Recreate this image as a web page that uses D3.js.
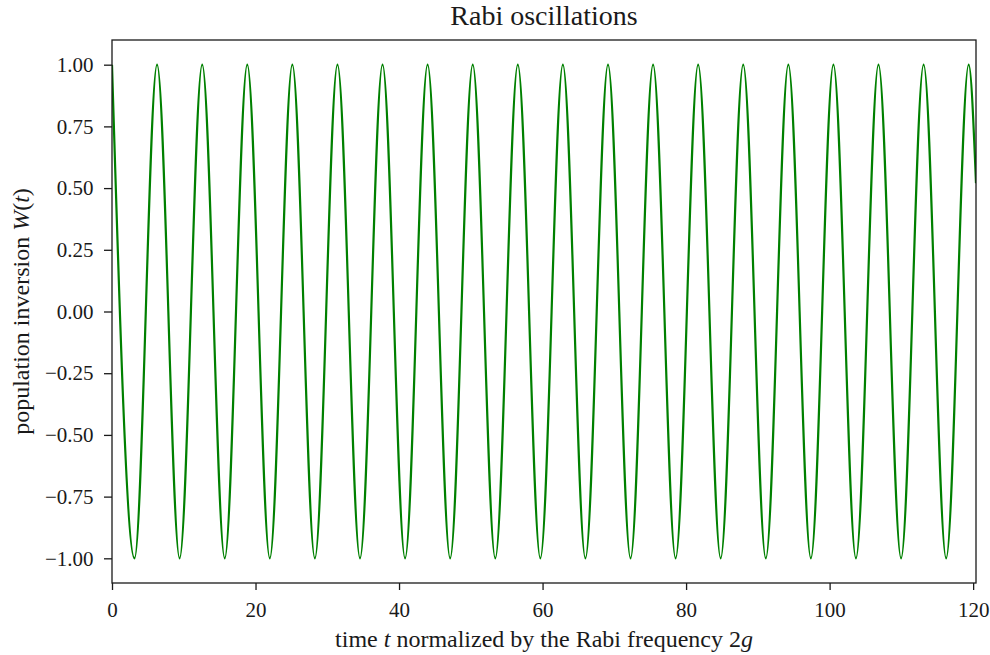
<!DOCTYPE html>
<meta charset="utf-8">
<style>
  body { margin: 0; background: #fff; }
  svg text { font-family: "Liberation Serif", "DejaVu Serif", serif; fill: #1a1a1a; }
  .axis path, .axis line { fill: none; stroke: #1a1a1a; stroke-width: 1.3; }
  .axis text { font-size: 21px; }
  .label { font-size: 24px; }
  .title { font-size: 28px; }
</style>
<body>
<script src="https://d3js.org/d3.v7.min.js"></script>
<script>
// extrema of W(t) (peaks at +1, troughs at -1), plus the end point
var times = [0, 3.14, 6.28, 9.42, 12.57, 15.71, 18.85, 21.99, 25.13, 28.27, 31.42,
  34.56, 37.70, 40.84, 43.98, 47.12, 50.27, 53.41, 56.55, 59.69, 62.83,
  65.97, 69.12, 72.26, 75.40, 78.54, 81.68, 84.82, 87.96, 91.11, 94.25,
  97.39, 100.53, 103.67, 106.81, 109.96, 113.10, 116.24, 119.38, 120.4];
var inversion = [1, -1, 1, -1, 1, -1, 1, -1, 1, -1, 1,
  -1, 1, -1, 1, -1, 1, -1, 1, -1, 1,
  -1, 1, -1, 1, -1, 1, -1, 1, -1, 1,
  -1, 1, -1, 1, -1, 1, -1, 1, 0.52];
var xTicks = [0, 20, 40, 60, 80, 100, 120];
var yTicks = [-1, -0.75, -0.5, -0.25, 0, 0.25, 0.5, 0.75, 1];

var margin = {top: 40, right: 14, bottom: 72, left: 112},
    width = 990 - margin.left - margin.right,
    height = 655 - margin.top - margin.bottom;

var svg = d3.select("body").append("svg")
    .attr("width", 990)
    .attr("height", 655);

var g = svg.append("g")
    .attr("transform", "translate(" + margin.left + "," + margin.top + ")");

var x = d3.scaleLinear().domain([0, 120.4]).range([0, width]);
var y = d3.scaleLinear().domain([-1.1, 1.1]).range([height, 0]);

var data = times.map(function(t, i) { return {t: t, w: inversion[i]}; });

var line = d3.line()
    .x(function(d) { return x(d.t); })
    .y(function(d) { return y(d.w); })
    .curve(d3.curveMonotoneX);

g.append("clipPath").attr("id", "clip")
  .append("rect").attr("width", width).attr("height", height);

g.append("path")
    .datum(data)
    .attr("clip-path", "url(#clip)")
    .attr("fill", "none")
    .attr("stroke", "#008000")
    .attr("stroke-width", 2.2)
    .attr("d", line);

// frame
g.append("rect")
    .attr("width", width).attr("height", height)
    .attr("fill", "none").attr("stroke", "#1a1a1a").attr("stroke-width", 1.3);

g.append("g")
    .attr("class", "x axis")
    .attr("transform", "translate(0," + height + ")")
    .call(d3.axisBottom(x).tickValues(xTicks).tickSize(7).tickPadding(12).tickFormat(d3.format("d")))
    .call(function(s) { s.select(".domain").remove(); });

g.append("g")
    .attr("class", "y axis")
    .call(d3.axisLeft(y).tickValues(yTicks).tickSize(8).tickPadding(10.5).tickFormat(function(d) { return d3.format(".2f")(d).replace("-", "\u2212"); }))
    .call(function(s) { s.select(".domain").remove(); });

svg.append("text")
    .attr("class", "title")
    .attr("x", margin.left + width / 2)
    .attr("y", 25)
    .attr("text-anchor", "middle")
    .text("Rabi oscillations");

var xl = svg.append("text")
    .attr("class", "label")
    .attr("x", margin.left + width / 2)
    .attr("y", 647)
    .attr("text-anchor", "middle");
xl.append("tspan").text("time ");
xl.append("tspan").attr("font-style", "italic").text("t");
xl.append("tspan").text(" normalized by the Rabi frequency 2");
xl.append("tspan").attr("font-style", "italic").text("g");

var yl = svg.append("text")
    .attr("class", "label")
    .attr("transform", "translate(28.5," + (margin.top + height / 2) + ") rotate(-90)")
    .attr("text-anchor", "middle");
yl.append("tspan").text("population inversion ");
yl.append("tspan").attr("font-style", "italic").text("W");
yl.append("tspan").text("(");
yl.append("tspan").attr("font-style", "italic").text("t");
yl.append("tspan").text(")");
</script>
